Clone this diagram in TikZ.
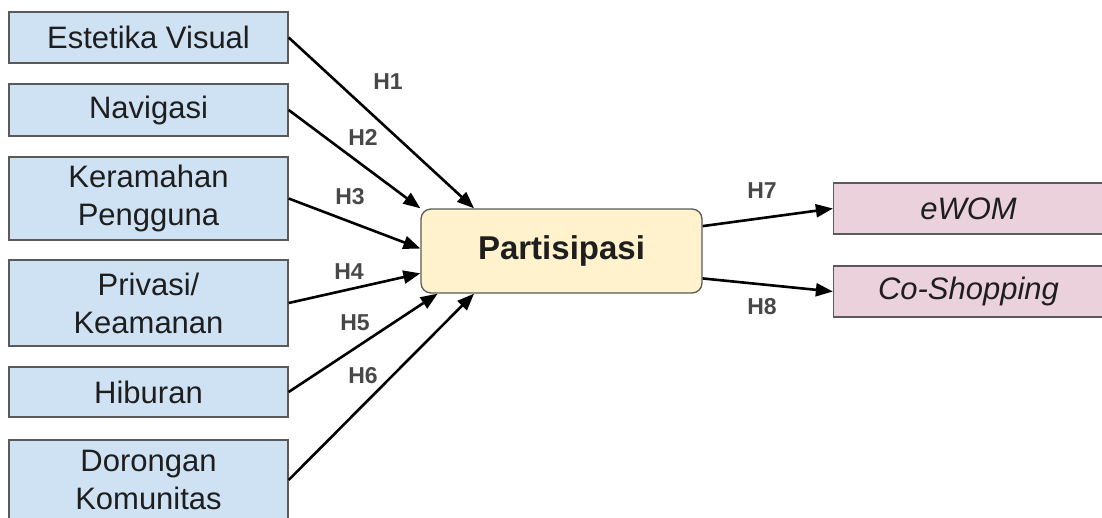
\documentclass[tikz,border=0pt]{standalone}
\usepackage{fontspec}
\setmainfont{Liberation Sans}
\usetikzlibrary{arrows.meta}
\definecolor{varblue}{HTML}{CFE2F3}
\definecolor{varyellow}{HTML}{FFF2CC}
\definecolor{varpink}{HTML}{EAD1DC}
\definecolor{edgegray}{HTML}{5A5A5A}
\definecolor{labelgray}{HTML}{484848}
\definecolor{textdark}{HTML}{1E1E1E}
\begin{document}
\begin{tikzpicture}[x=1pt, y=-1pt,
    var/.style={draw=edgegray, line width=1.3pt, fill=varblue, inner sep=0pt,
        minimum width=279pt, align=center, text=textdark,
        font=\fontsize{31}{38}\selectfont},
    hub/.style={var, fill=varyellow, minimum width=281pt, minimum height=84pt,
        rounded corners=10pt, font=\bfseries\fontsize{33}{38}\selectfont},
    outcome/.style={var, fill=varpink, minimum width=270pt, minimum height=51pt,
        font=\itshape\fontsize{31}{38}\selectfont},
    hyp/.style={text=labelgray, inner sep=0pt, font=\bfseries\fontsize{23}{26}\selectfont},
    link/.style={-{Triangle[length=17pt,width=13pt]}, line width=2.6pt}]
        \useasboundingbox (0, 0) rectangle (1102, 518);
        \begin{scope}
        % independent variables
        \node[var, minimum height=51pt] (estetika) at (148.5, 37.5) {Estetika Visual};
        \node[var, minimum height=52pt] (navigasi) at (148.5, 110) {Navigasi};
        \node[var, minimum height=83pt] (keramahan) at (148.5, 198.5) {Keramahan\\Pengguna};
        \node[var, minimum height=86pt] (privasi) at (148.5, 303) {Privasi/\\Keamanan};
        \node[var, minimum height=50pt] (hiburan) at (148.5, 392) {Hiburan};
        \node[var, minimum height=80pt] (dorongan) at (148.5, 480) {Dorongan\\Komunitas};
        % mediator and outcomes
        \node[hub] (partisipasi) at (561.5, 251) {Partisipasi};
        \node[outcome] (ewom) at (968.5, 208.5) {eWOM};
        \node[outcome] (coshop) at (968.5, 291.5) {Co-Shopping};
        \draw[link] (estetika.east) -- (partisipasi.154);
        \draw[link] (navigasi.east) -- (partisipasi.north west);
        \draw[link] (keramahan.east) -- (partisipasi.179);
        \draw[link] (privasi.east) -- (partisipasi.189);
        \draw[link] (hiburan.east) -- (partisipasi.199);
        \draw[link] (dorongan.east) -- (partisipasi.206);
        \draw[link] (partisipasi.10) -- (ewom.west);
        \draw[link] (partisipasi.349) -- (coshop.west);
        \node[hyp] (h1) at (388, 82) {H1};
        \node[hyp] (h2) at (363, 137) {H2};
        \node[hyp] (h3) at (350, 197) {H3};
        \node[hyp] (h4) at (349, 272) {H4};
        \node[hyp] (h5) at (355, 323) {H5};
        \node[hyp] (h6) at (363, 376) {H6};
        \node[hyp] (h7) at (762, 191) {H7};
        \node[hyp] (h8) at (762, 307) {H8};
        \end{scope}
\end{tikzpicture}
\end{document}
